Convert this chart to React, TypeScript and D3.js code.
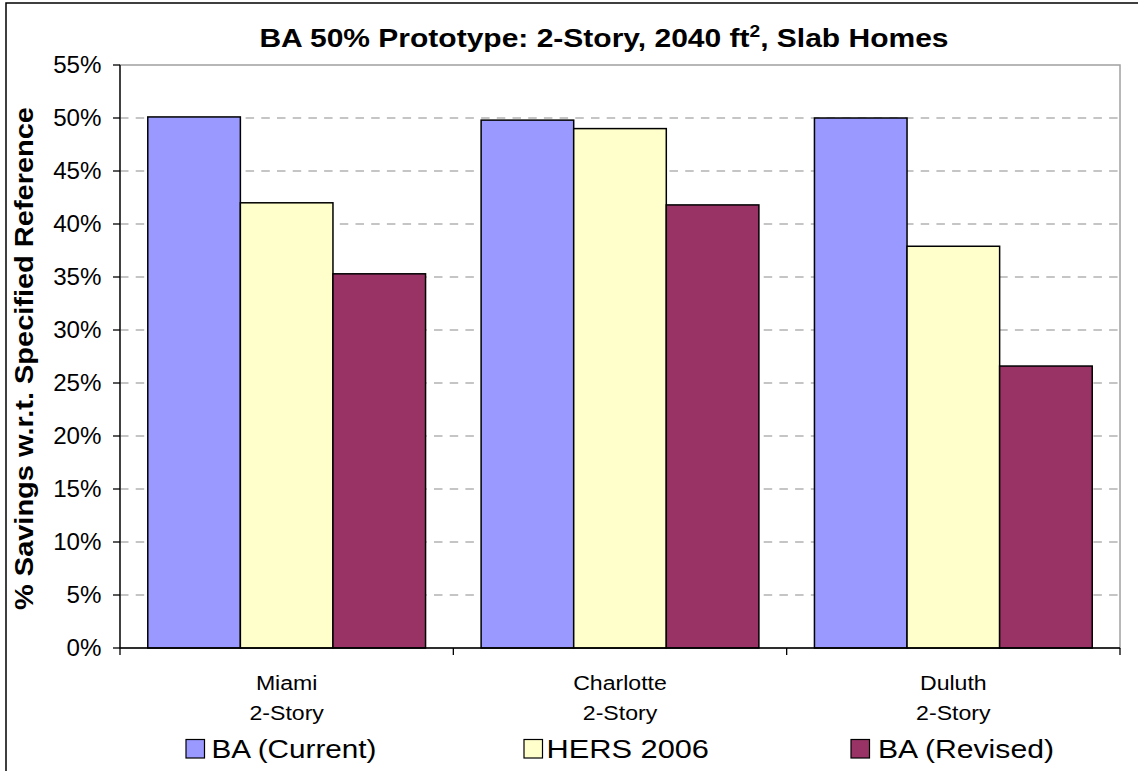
import React from "react";
import * as d3 from "d3";

const categories = ["Miami|2-Story", "Charlotte|2-Story", "Duluth|2-Story"];
const seriesNames = ["BA (Current)", "HERS 2006", "BA (Revised)"];
const baCurrent = [50.1, 49.8, 50.0];
const hers2006 = [42.0, 49.0, 37.9];
const baRevised = [35.3, 41.8, 26.6];
const yTicks = [0, 5, 10, 15, 20, 25, 30, 35, 40, 45, 50, 55];
const colors = ["#9999FF", "#FFFFCC", "#993366"];

const W = 1138, H = 771;
const plot = { left: 120, right: 1120, top: 65, bottom: 648 };
const font = "'Liberation Sans', Arial, sans-serif";

export default function App() {
  const series = [baCurrent, hers2006, baRevised];
  const y = d3.scaleLinear().domain([0, 55]).range([plot.bottom, plot.top]);
  const x0 = d3.scaleBand<string>().domain(categories).range([plot.left, plot.right]).paddingInner(0).paddingOuter(0);
  const cw = x0.bandwidth();
  const barW = cw / 3.6;
  const x1 = d3.scaleBand<string>().domain(seriesNames).range([0.3 * barW, 0.3 * barW + 3 * barW]);
  const legendX = [186, 524, 851];
  const legendTextX = [211.5, 546.5, 878];
  const legendTextLen = [165, 162.5, 176];

  return (
    <svg width={W} height={H} style={{ display: "block", position: "absolute", left: 0, top: 0, background: "#fff" }}>
      <rect x={6} y={3} width={W + 10} height={H + 10} fill="#fff" stroke="#000" strokeWidth={1.5} />
      <rect x={plot.left} y={plot.top} width={plot.right - plot.left} height={plot.bottom - plot.top} fill="#fff" stroke="#a0a0a0" strokeWidth={1.5} />
      {yTicks.filter((t) => t > 0 && t < 55).map((t) => (
        <line key={t} x1={plot.left} x2={plot.right} y1={y(t)} y2={y(t)} stroke="#8c8c8c" strokeWidth={1.2} strokeDasharray="8.5,7.2" />
      ))}
      {categories.map((c, ci) => (
        <g key={c} transform={`translate(${x0(c)},0)`}>
          {series.map((s, si) => (
            <rect key={si} x={x1(seriesNames[si])} y={y(s[ci])} width={x1.bandwidth()} height={plot.bottom - y(s[ci])}
              fill={colors[si]} stroke="#000" strokeWidth={1.5} />
          ))}
        </g>
      ))}
      <line x1={plot.left} x2={plot.left} y1={plot.top} y2={plot.bottom} stroke="#000" strokeWidth={1.3} />
      <line x1={plot.left} x2={plot.right} y1={plot.bottom} y2={plot.bottom} stroke="#000" strokeWidth={1.3} />
      {yTicks.map((t) => (
        <g key={t}>
          <line x1={plot.left - 7} x2={plot.left} y1={y(t)} y2={y(t)} stroke="#000" strokeWidth={1.3} />
          <text transform={`translate(101.5,${y(t)}) scale(1.05,1)`} dy="0.36em" textAnchor="end" fontFamily={font} fontSize={23}>{t}%</text>
        </g>
      ))}
      {categories.map((c, i) => (
        <line key={"t" + i} x1={x0(c) as number} x2={x0(c) as number} y1={plot.bottom} y2={plot.bottom + 7} stroke="#000" strokeWidth={1.3} />
      ))}
      <line x1={plot.right} x2={plot.right} y1={plot.bottom} y2={plot.bottom + 7} stroke="#000" strokeWidth={1.3} />
      {categories.map((c) => {
        const [a, b] = c.split("|");
        const cx = (x0(c) as number) + cw / 2;
        return (
          <g key={c} transform={`translate(${cx},0) scale(1.1,1)`}>
            <text textAnchor="middle" fontFamily={font} fontSize={21}>
              <tspan x={0} y={690}>{a}</tspan>
              <tspan x={0} y={720}>{b}</tspan>
            </text>
          </g>
        );
      })}
      <g transform="translate(604,47.3) scale(1.2,1)">
        <text x={0} y={0} textAnchor="middle" fontFamily={font} fontSize={25} fontWeight="bold">
          BA 50% Prototype: 2-Story, 2040 ft<tspan dy={-10} fontSize={16}>2</tspan><tspan dy={10}>, Slab Homes</tspan>
        </text>
      </g>
      <text transform={`translate(33,358.5) rotate(-90)`} textAnchor="middle" fontFamily={font} fontSize={25} fontWeight="bold"
        textLength={503} lengthAdjust="spacingAndGlyphs">
        % Savings w.r.t. Specified Reference
      </text>
      {seriesNames.map((n, i) => (
        <g key={n}>
          <rect x={legendX[i]} y={739.5} width={18.5} height={18.5} fill={colors[i]} stroke="#000" strokeWidth={1.2} />
          <text x={legendTextX[i]} y={758.3} fontFamily={font} fontSize={25} textLength={legendTextLen[i]} lengthAdjust="spacingAndGlyphs">{n}</text>
        </g>
      ))}
    </svg>
  );
}
